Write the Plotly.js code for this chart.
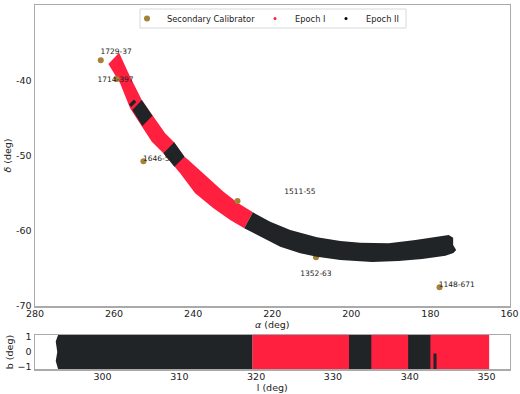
<!DOCTYPE html>
<html><head><meta charset="utf-8"><script src="https://cdn.plot.ly/plotly-3.0.1.min.js"></script>
<style>html,body{margin:0;padding:0;background:#fff}#c{width:520px;height:394px}</style></head><body><div id="c"></div>
<script>
const calNames=['1729-37','1714-397','1646-50','1511-55','1352-63','1148-671'];
const calRa=[263.37,259.32,252.58,228.78,208.94,177.7];
const calDec=[-37.35,-39.83,-50.77,-56.05,-63.53,-67.5];
const labelRa=[259.5,259.62,248.73,212.99,208.94,173.35];
const labelDec=[-36.25,-40.0,-50.5,-54.9,-65.75,-67.25];

const redRa=[258.73,255.95,252.99,250.30,247.09,244.81,242.20,241.19,236.53,232.33,228.78,224.89,227.09,230.63,234.86,239.49,243.29,247.52,250.46,252.99,255.95,258.48,261.44];
const redDec=[-36.34,-39.53,-42.62,-44.71,-47.05,-48.25,-50.16,-50.60,-52.82,-54.81,-56.27,-57.55,-59.67,-58.57,-57.02,-55.02,-52.37,-49.71,-48.17,-46.08,-43.73,-40.41,-37.84];
const blackMainRa=[224.89,220.51,215.44,208.68,202.78,197.72,190.56,183.80,175.37,174.25,174.25,173.49,174.18,176.20,182.10,188.03,194.76,198.99,202.78,208.68,212.91,217.97,223.04,227.09];
const blackMainDec=[-57.55,-58.80,-59.90,-60.87,-61.36,-61.59,-61.67,-61.23,-60.56,-60.92,-61.89,-62.56,-62.96,-63.32,-63.75,-64.02,-64.15,-64.02,-63.89,-63.45,-63.0,-62.12,-60.79,-59.67];
const blackB1Ra=[252.99,250.30,252.84,255.37];
const blackB1Dec=[-42.62,-44.71,-46.08,-43.95];
const blackB2Ra=[244.81,242.20,244.73,247.52];
const blackB2Dec=[-48.25,-50.16,-51.49,-49.71];
const blackTickRa=[255.95,254.68];
const blackTickDec=[-43.38,-42.72];

const lRed=[319.5,350.35];
const lBlackMain=[319.5,319.5,294.2,293.9,294.1,293.9,294.2];
const bBlackMain=[1.13,-1.13,-1.13,-0.6,0,0.7,1.13];
const lBlack=[[332.1,335.0],[339.8,342.7]];
const lTick=[343.1,343.5];
const bTop=1.13,bBottom=-1.13,bTickTop=-0.1;

const ink='#202426',red='#ff2040',gold='#a58235';
function poly(x,y,color,xa,ya){return {type:'scatter',mode:'lines',x:x.concat(x[0]),y:y.concat(y[0]),fill:'toself',fillcolor:color,line:{color:color,width:0},xaxis:xa,yaxis:ya,showlegend:false,hoverinfo:'skip'};}
const data=[
 poly(redRa,redDec,red,'x','y'),
 poly(blackB1Ra,blackB1Dec,ink,'x','y'),
 poly(blackB2Ra,blackB2Dec,ink,'x','y'),
 {type:'scatter',mode:'lines',x:blackTickRa,y:blackTickDec,line:{color:ink,width:3.5},showlegend:false,hoverinfo:'skip'},
 {type:'scatter',mode:'markers',x:calRa,y:calDec,marker:{color:gold,size:6},name:'Secondary Calibrator',legendwidth:83},
 {type:'scatter',mode:'markers',x:[null],y:[null],marker:{color:red,size:3},name:'Epoch I',legendwidth:26},
 {type:'scatter',mode:'markers',x:[null],y:[null],marker:{color:'#000',size:3},name:'Epoch II'},
 poly(blackMainRa,blackMainDec,ink,'x','y'),
 {type:'scatter',mode:'text',x:labelRa,y:labelDec,text:calNames,textfont:{size:7.5,color:'#222',family:'DejaVu Sans'},showlegend:false,hoverinfo:'skip'},
 poly([lRed[0],lRed[1],lRed[1],lRed[0]],[bTop,bTop,bBottom,bBottom],red,'x2','y2'),
 poly(lBlackMain,bBlackMain,ink,'x2','y2')
];
lBlack.forEach(s=>data.push(poly([s[0],s[1],s[1],s[0]],[bTop,bTop,bBottom,bBottom],ink,'x2','y2')));
data.push(poly([lTick[0],lTick[1],lTick[1],lTick[0]],[bTickTop,bTickTop,bBottom,bBottom],ink,'x2','y2'));
const spine='#aaaaaa';
const common={showgrid:false,zeroline:false,showline:true,mirror:true,linecolor:spine,linewidth:1.5,ticks:'',tickfont:{size:9.5,color:'#222'},automargin:false};
const W=520,H=394;
const layout={width:W,height:H,margin:{l:0,r:0,t:0,b:0},paper_bgcolor:'#fff',plot_bgcolor:'#fff',
 font:{family:'DejaVu Sans',color:'#222'},
 xaxis:Object.assign({},common,{domain:[35/W,509.5/W],range:[280,160],anchor:'y',dtick:20,ticklabelstandoff:-2,title:{text:'<i>α</i> (deg)',font:{size:9.5},standoff:1}}),
 yaxis:Object.assign({},common,{domain:[1-306/H,1-5/H],range:[-70,-30],anchor:'x',tickvals:[-70,-60,-50,-40,-30],ticktext:['-70','-60','-50','-40','-30'],title:{text:'<i>δ</i> (deg)',font:{size:9.5},standoff:2}}),
 xaxis2:Object.assign({},common,{domain:[35/W,509.5/W],range:[291.2,353],anchor:'y2',dtick:10,ticklabelstandoff:-2,title:{text:'l (deg)',font:{size:9.5},standoff:1}}),
 yaxis2:Object.assign({},common,{domain:[1-369/H,1-335/H],range:[-1.13,1.13],anchor:'x2',tickvals:[-1,0,1],ticktext:['−1','0','1'],title:{text:'b (deg)',font:{size:9.5},standoff:2}}),
 shapes:[{type:'rect',xref:'paper',yref:'paper',x0:140/W,x1:406/W,y0:1-28/H,y1:1-9/H,fillcolor:'#fff',line:{color:'#d8d8d8',width:1},layer:'below'}],
 legend:{orientation:'h',x:127/W,xanchor:'left',xref:'paper',y:1-4/H,yanchor:'top',yref:'paper',bgcolor:'rgba(0,0,0,0)',borderwidth:0,font:{size:8.3,color:'#222'},itemsizing:'trace'},
 showlegend:true
};
Plotly.newPlot('c',data,layout,{staticPlot:true,displayModeBar:false});
</script></body></html>
